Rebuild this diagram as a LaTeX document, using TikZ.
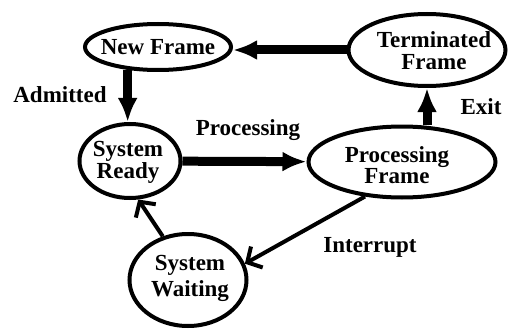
\documentclass[tikz,border=0pt]{standalone}
\usepackage{fontspec}
\setmainfont{Liberation Serif}
\usetikzlibrary{shapes.geometric,arrows.meta}
\begin{document}
\begin{tikzpicture}[x=1pt,y=-1pt,
  state/.style={ellipse,draw,line width=4pt,inner sep=0pt},
  txt/.style={align=center,inner sep=0pt,font=\bfseries\fontsize{23}{20}\selectfont},
  bigarrow/.style={line width=9pt,-{Latex[length=24pt,width=20pt]}},
  thinarrow/.style={line width=4pt,-{Straight Barb[length=11pt,width=24pt]}}]
\useasboundingbox (0,0) rectangle (509,329);

% states
\node[state,minimum width=146pt,minimum height=46pt] (new)  at (158,47)  {};
\node[state,minimum width=157pt,minimum height=72pt] (term) at (427,50)  {};
\node[state,minimum width=101pt,minimum height=74pt] (ready) at (130,161) {};
\node[state,minimum width=187pt,minimum height=71pt] (proc) at (402,162) {};
\node[state,minimum width=117pt,minimum height=92pt] (wait) at (188,280) {};

\node[txt] at (new)  {New Frame};
\node[txt,font=\bfseries\fontsize{23}{22}\selectfont] at (434,51) {Terminated\\Frame};
\node[txt,font=\bfseries\fontsize{23}{22}\selectfont] at (128,162) {System\\Ready};
\node[txt,font=\bfseries\fontsize{23}{19}\selectfont] at (397,165) {Processing\\Frame};
\node[txt,font=\bfseries\fontsize{23}{26}\selectfont] at (190,278) {System\\Waiting};

% transitions
\draw[bigarrow] (term.west) -- (new.east |- term.west);
\draw[bigarrow] (new.217) -- (new.217 |- ready.north);
\draw[bigarrow] (ready) -- (proc);
\draw[bigarrow] (term.south |- proc.north) -- (term.south);
\draw[thinarrow] (proc.223) -- (wait.16);
\draw[thinarrow] (wait.120) -- (ready.282);

% labels
\node[txt] (ladm)  at (60,95)   {Admitted};
\node[txt] (lproc) at (248,130) {Processing};
\node[txt] (lexit) at (481,107) {Exit};
\node[txt] (lint)  at (370,247) {Interrupt};
\end{tikzpicture}
\end{document}
